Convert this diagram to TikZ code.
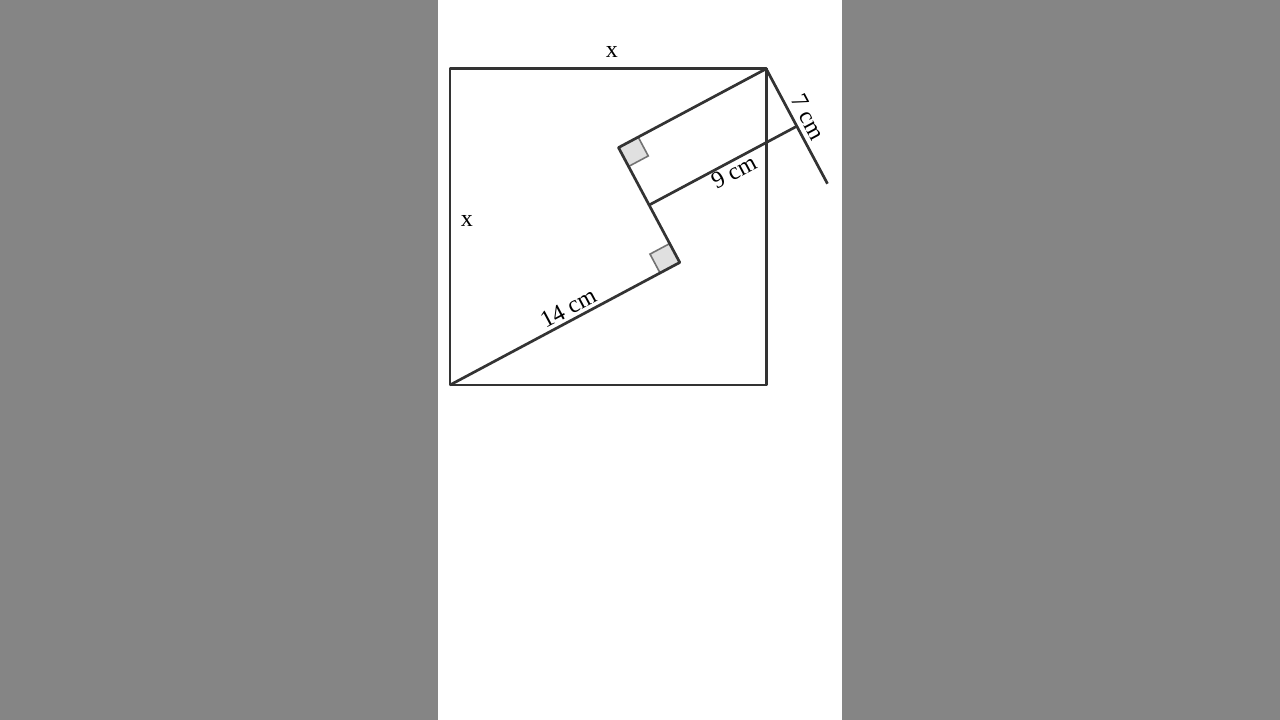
\documentclass[tikz,border=0pt]{standalone}
\usepackage{fontspec}
\setmainfont{Liberation Serif}
\usetikzlibrary{calc}

\definecolor{sidegray}{gray}{0.52}
\definecolor{inkgray}{gray}{0.2}

\tikzset{
    edge/.style={line width=2.7pt, draw=inkgray, line join=round},
    rightangle/.style={fill=black!12, draw=black!55, line width=1.6pt},
    lab/.style={font=\fontsize{24}{28}\selectfont}
}

\begin{document}
\begin{tikzpicture}[x=18.6pt, y=18.6pt]
    % Page and grey side bands
    \useasboundingbox (-450pt, -335pt) rectangle (830pt, 385pt);
    \fill[sidegray] (-450pt, -335pt) rectangle (-12pt, 385pt);
    \fill[sidegray] (392pt, -335pt) rectangle (830pt, 385pt);

    % --- Corners of the square and the bent path ---
    \coordinate (A) at (0, 0);
    \coordinate (D) at (17, 17);
    \coordinate (B) at (28.07:14);
    \coordinate (C) at ($(B)+(118.07:7)$);
    \coordinate (E) at ($(B)!0.5!(C)$);
    \coordinate (G) at ($(D)+(-61.93:7)$);
    \coordinate (F) at ($(D)!0.5!(G)$);

    % --- Right angle marks ---
    \draw[rightangle] (C) -- ++(28.07:1.2) -- ++(-61.93:1.15) -- ++(208.07:1.2) -- cycle;
    \draw[rightangle] (B) -- ++(208.07:1.2) -- ++(118.07:1.15) -- ++(28.07:1.2) -- cycle;

    % The square
    \draw[edge] (A) rectangle (D);

    % Bent path inside
    \draw[edge] (A) -- node[lab, pos=0.54, above, sloped, inner sep=3pt] {14 cm} (B)
        -- (C) -- (D);

    % --- Dimension lines ---
    \draw[edge] (D) -- node[lab, pos=0.48, above, sloped, inner sep=5pt] {7 cm} (G);
    \draw[edge] (E) -- node[lab, pos=0.54, below, sloped, inner sep=1pt] {9 cm} (F);

    % Side labels
    \node[lab] (topx) at (8.7, 17.9) {x};
    \node[lab] (leftx) at (0.91, 8.82) {x};
\end{tikzpicture}
\end{document}
